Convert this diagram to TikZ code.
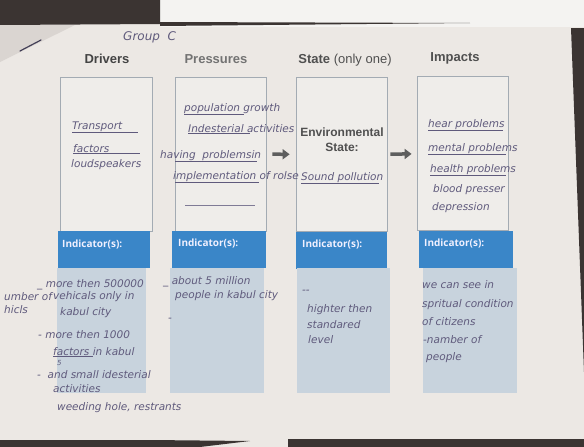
\documentclass[tikz,border=0pt]{standalone}
\usepackage{fontspec}
\setmainfont{Liberation Sans}
\newfontfamily\hand{DejaVu Sans}
\newfontfamily\osb{Open Sans}
\usetikzlibrary{arrows.meta}
\definecolor{paper}{HTML}{ECE8E4}
\definecolor{sheet}{HTML}{F4F3F1}
\definecolor{darkbg}{HTML}{3B3432}
\definecolor{shadow}{HTML}{DAD5D1}
\definecolor{ink}{HTML}{5F5A7C}
\definecolor{titlegrey}{HTML}{505050}
\definecolor{hdrblue}{HTML}{3A86C8}
\definecolor{lightblue}{HTML}{C8D3DD}
\definecolor{boxline}{HTML}{A3ABB3}
\definecolor{boxfill}{HTML}{EFEDEA}
\definecolor{arrowgrey}{HTML}{5E5E5E}
\tikzset{
  topbox/.style={draw=boxline, line width=0.8pt, fill=boxfill, inner sep=0, minimum height=154},
  hdr/.style={fill=hdrblue, inner sep=0, minimum height=37},
  lowbox/.style={fill=lightblue, inner sep=0, minimum height=125},
  title/.style={font=\fontsize{13}{15}\selectfont\bfseries, text=titlegrey, inner sep=0},
  indlabel/.style={font=\osb\fontsize{10}{12}\selectfont\bfseries, text=white!94!blue, inner sep=0, anchor=west},
  hw/.style={font=\hand\itshape\fontsize{10.5}{12}\selectfont, text=ink, inner sep=0, anchor=west},
  uline/.style={draw=ink, line width=0.6pt},
  fatarrow/.style={draw=arrowgrey, line width=3.5pt, -{Triangle[length=7pt,width=10pt]}}
}
\begin{document}
\begin{tikzpicture}[x=1pt,y=-1pt]
\useasboundingbox (0,0) rectangle (584,447);
% photo background
\fill[paper] (0,0) rectangle (584,447);
\fill[sheet] (160,0) rectangle (584,27);
\fill[darkbg] (0,0) -- (160,0) -- (160,24) -- (0,25) -- cycle;
\fill[darkbg] (160,22) -- (470,23) -- (160,26) -- cycle;
\fill[shadow] (0,25) -- (75,25) -- (0,62) -- cycle;
\fill[darkbg] (571,28) -- (584,28) -- (584,372) -- cycle;
\fill[darkbg] (0,440) -- (150,440) -- (250,441) -- (200,447) -- (0,447) -- cycle;
\fill[darkbg] (288,439) rectangle (584,447);
\draw[ink!70!black, line width=1.2pt, line cap=round] (20,51) -- (41,40);

% heading
\node[hw, font=\hand\itshape\fontsize{12}{14}\selectfont] (group) at (123,37) {Group\ \ C};
\node[title, text=titlegrey!85!black] (tdrv) at (107,59) {Drivers};
\node[title, text=titlegrey!80] (tprs) at (216,59) {Pressures};
\node[title] (tsta) at (345,60) {State \mdseries(only one)};
\node[title] (timp) at (455,58) {Impacts};

% upper boxes
\node[topbox, minimum width=92] (dbox) at (106,154) {};
\node[topbox, minimum width=91] (pbox) at (220.5,154) {};
\node[topbox, minimum width=91] (sbox) at (341.5,154.5) {};
\node[topbox, minimum width=91] (ibox) at (462.5,153.5) {};

% indicator headers
\node[hdr, minimum width=92] (dhdr) at (104,249.5) {};
\node[hdr, minimum width=94] (phdr) at (219,249) {};
\node[hdr, minimum width=91] (shdr) at (341.5,250) {};
\node[hdr, minimum width=94] (ihdr) at (466,249) {};
\node[indlabel] (dlab) at (62,244) {Indicator(s):};
\node[indlabel] (plab) at (178,243) {Indicator(s):};
\node[indlabel] (slab) at (302,244) {Indicator(s):};
\node[indlabel] (ilab) at (424,243) {Indicator(s):};

% lower boxes
\node[lowbox, minimum width=89] (dlow) at (101.5,330.5) {};
\node[lowbox, minimum width=94] (plow) at (217,330) {};
\node[lowbox, minimum width=93] (slow) at (343.5,330.5) {};
\node[lowbox, minimum width=94] (ilow) at (470,330) {};

% arrows
\draw[fatarrow, shorten <=6pt, shorten >=6pt] (pbox) -- (sbox);
\draw[fatarrow, shorten <=3pt, shorten >=5pt] (sbox) -- (ibox);

% state title
\node[font=\fontsize{12}{15}\selectfont\bfseries, text=titlegrey, align=center, inner sep=0] (envst) at (342,140) {Environmental\\State:};

% drivers
\node[hw] (d1) at (72,127) {Transport};
\draw[uline] (d1.south west) -- ++(66,0);
\node[hw] (d2) at (73,149) {factors};
\draw[uline] (d2.south west) -- ++(67,0);
\node[hw] (d3) at (71,165) {loudspeakers};

% pressures
\node[hw] (p1) at (184,109) {population growth};
\draw[uline] (p1.south west) -- ++(60,0);
\node[hw] (p2) at (188,129) {Indesterial activities};
\draw[uline] (p2.south west) -- ++(62,0);
\node[hw] (p3) at (160,156) {having\ \ problemsin};
\draw[uline] ([xshift=15pt]p3.south west) -- ++(82,0);
\node[hw] (p4) at (173,177) {implementation of rolse};
\draw[uline] ([xshift=2pt]p4.south west) -- ++(84,0);
\coordinate (blank1) at (185,205);
\coordinate (blank2) at (255,205);
\draw[uline, draw=ink!80] (blank1) -- (blank2);

% state
\node[hw] (s1) at (301,178) {Sound pollution};
\draw[uline] (s1.south west) -- ++(78,0);

% impacts
\node[hw] (i1) at (428,125) {hear problems};
\draw[uline] (i1.south west) -- ++(75,0);
\node[hw] (i2) at (428,149) {mental problems};
\draw[uline] (i2.south west) -- ++(78,0);
\node[hw] (i3) at (430,170) {health problems};
\draw[uline] (i3.south west) -- ++(76,0);
\node[hw] (i4) at (433,190) {blood presser};
\node[hw] (i5) at (432,208) {depression};

% drivers indicators
\node[hw] (di1) at (37,285) {\_ more then 500000};
\node[hw] (di2) at (4,297) {umber of};
\node[hw] (di3) at (53,297) {vehicals only in};
\node[hw] (di4) at (4,310) {hicls};
\node[hw] (di5) at (60,313) {kabul city};
\node[hw] (di6) at (38,335) {- more then 1000};
\node[hw] (di7) at (53,352) {factors in kabul};
\draw[uline] (di7.south west) -- ++(40,0);
\node[hw, font=\hand\itshape\fontsize{7}{8}\selectfont] (di8) at (57,363) {5};
\node[hw] (di9) at (37,375) {-\ \ and small idesterial};
\node[hw] (di10) at (53,389) {activities};
\node[hw] (di11) at (57,408) {weeding hole, restrants};

% pressures indicators
\node[hw] (pi1) at (163,282) {\_ about 5 million};
\node[hw] (pi2) at (175,296) {people in kabul city};
\node[hw] (pi3) at (168,320) {-};

% state indicators
\node[hw] (si0) at (302,292) {--};
\node[hw] (si1) at (307,310) {highter then};
\node[hw] (si2) at (307,325) {standared};
\node[hw] (si3) at (308,340) {level};

% impacts indicators
\node[hw] (ii1) at (422,285) {we can see in};
\node[hw] (ii2) at (422,305) {spritual condition};
\node[hw] (ii3) at (422,322) {of citizens};
\node[hw] (ii4) at (423,340) {-namber of};
\node[hw] (ii5) at (426,358) {people};
\end{tikzpicture}
\end{document}
